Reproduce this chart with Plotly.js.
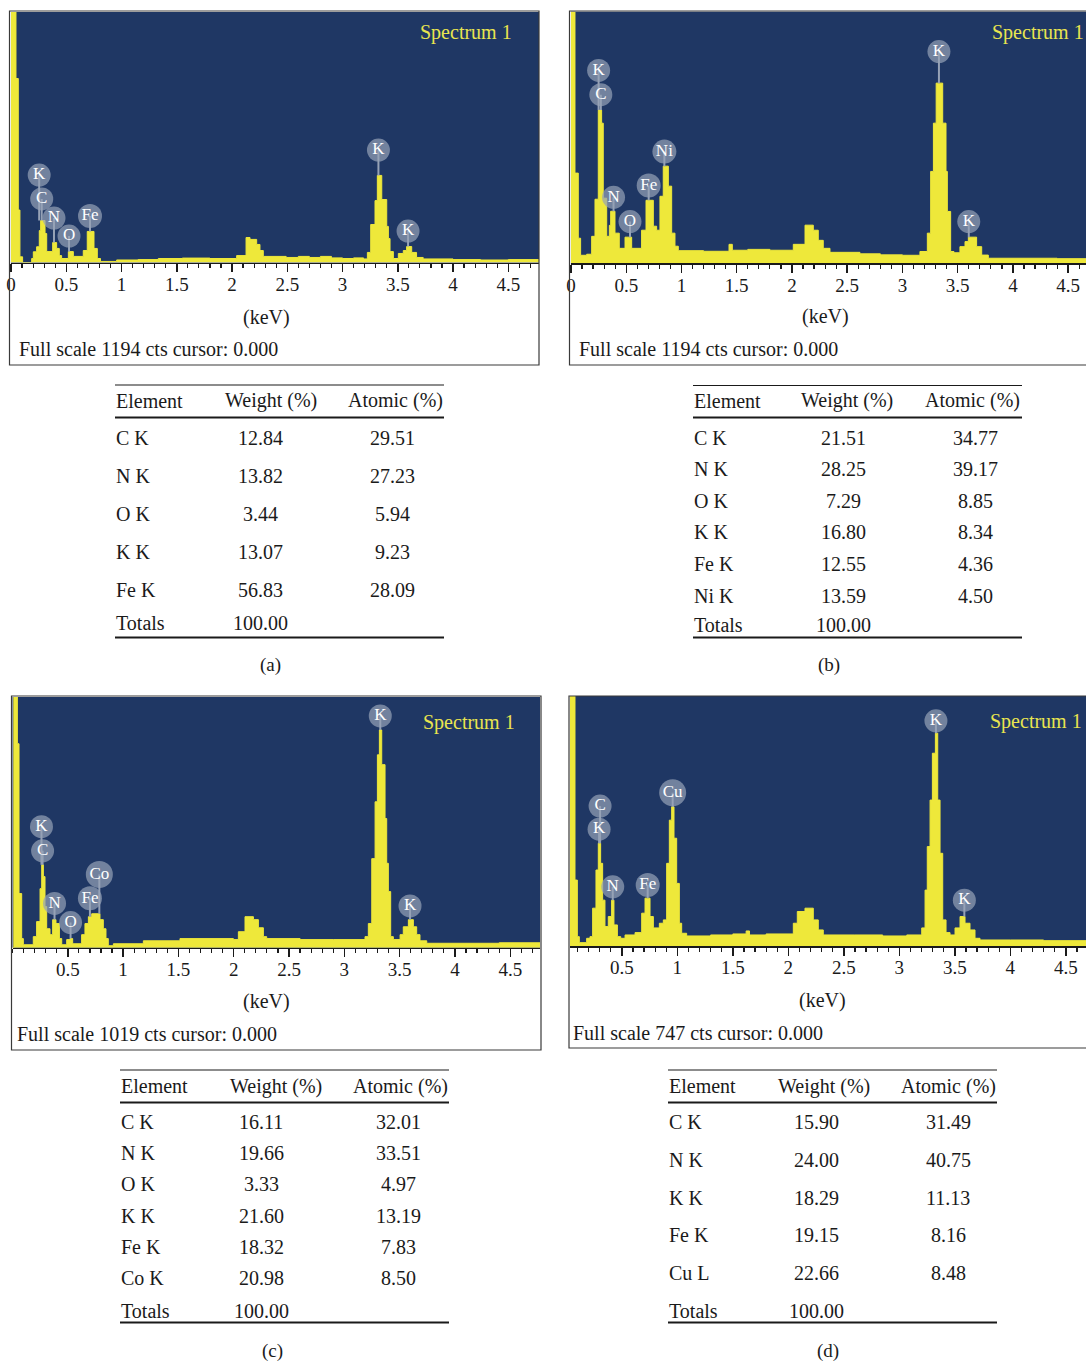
<!DOCTYPE html>
<html>
<head>
<meta charset="utf-8">
<script src="https://cdn.plot.ly/plotly-3.0.1.min.js"></script>
<style>html,body{margin:0;padding:0;background:#fff;overflow:hidden}#chart{width:1086px;height:1362px}</style>
</head>
<body>
<div id="chart"></div>
<script>
// ---------------- DATA ----------------
// Spectrum (a)
const energyA = [0, 0.045, 0.066, 0.081, 0.105, 0.187, 0.202, 0.232, 0.256, 0.268, 0.308, 0.323, 0.377, 0.413, 0.437, 0.458, 0.519, 0.564, 0.654, 0.690, 0.751, 0.781, 0.810, 0.956, 1.150, 1.333, 1.550, 1.800, 2.042, 2.127, 2.163, 2.223, 2.253, 2.283, 2.490, 2.600, 2.700, 2.800, 2.900, 3.000, 3.100, 3.190, 3.225, 3.255, 3.294, 3.315, 3.355, 3.400, 3.415, 3.430, 3.460, 3.505, 3.550, 3.580, 3.626, 3.670, 3.730, 4.000, 4.250, 4.500, 4.800];
const countsA = [1194, 877, 250, 27, 0, 19, 51, 75, 152, 200, 138, 52, 95, 67, 33, 19, 52, 29, 57, 148, 67, 19, 5, 12, 14, 19, 21, 19, 33, 119, 110, 86, 57, 29, 24, 29, 24, 29, 22, 19, 22, 17, 48, 181, 295, 415, 300, 172, 114, 52, 19, 43, 57, 76, 48, 24, 17, 14, 12, 14, 14];
const peakElA = ['K', 'C', 'N', 'O', 'Fe', 'K', 'K'];
const peakKeVA = [0.255, 0.278, 0.389, 0.525, 0.715, 3.325, 3.593];
const peakLabelCtsA = [417, 303, 212, 126, 222, 536, 150];
const peakTopCtsA = [200, 200, 95, 52, 148, 415, 76];

// Spectrum (b)
const energyB = [0, 0.036, 0.066, 0.087, 0.142, 0.187, 0.217, 0.247, 0.277, 0.292, 0.323, 0.347, 0.359, 0.398, 0.437, 0.489, 0.549, 0.639, 0.679, 0.745, 0.775, 0.805, 0.835, 0.881, 0.911, 0.941, 0.971, 1.200, 1.430, 1.460, 1.600, 1.800, 2.012, 2.118, 2.193, 2.238, 2.283, 2.344, 2.615, 2.800, 3.000, 3.158, 3.225, 3.255, 3.280, 3.305, 3.364, 3.394, 3.406, 3.436, 3.466, 3.520, 3.566, 3.596, 3.671, 3.717, 3.777, 4.100, 4.400, 4.700];
const countsB = [1194, 428, 119, 38, 43, 128, 304, 727, 665, 309, 128, 180, 247, 143, 71, 124, 71, 157, 299, 176, 157, 318, 461, 366, 143, 81, 60, 57, 90, 62, 66, 62, 90, 181, 157, 109, 71, 52, 45, 40, 38, 56, 143, 436, 665, 855, 665, 436, 246, 56, 50, 79, 103, 124, 79, 39, 24, 24, 22, 24];
const peakElB = ['K', 'C', 'N', 'O', 'Fe', 'Ni', 'K', 'K'];
const peakKeVB = [0.250, 0.270, 0.385, 0.534, 0.703, 0.845, 3.330, 3.600];
const peakLabelCtsB = [915, 800, 313, 198, 369, 530, 1005, 198];
const peakTopCtsB = [727, 727, 247, 124, 299, 461, 855, 124];

// Spectrum (c)
const energyC = [0, 0.012, 0.044, 0.059, 0.083, 0.098, 0.188, 0.218, 0.249, 0.264, 0.279, 0.294, 0.309, 0.339, 0.363, 0.393, 0.424, 0.445, 0.490, 0.520, 0.544, 0.625, 0.655, 0.686, 0.716, 0.791, 0.821, 0.845, 0.866, 0.912, 1.183, 1.514, 1.997, 2.042, 2.102, 2.178, 2.223, 2.268, 2.298, 2.600, 2.900, 3.187, 3.217, 3.248, 3.278, 3.299, 3.317, 3.338, 3.368, 3.383, 3.398, 3.419, 3.443, 3.504, 3.533, 3.579, 3.624, 3.654, 3.684, 3.745, 4.100, 4.400, 4.800];
const countsC = [0, 1019, 829, 220, 37, 12, 45, 106, 240, 337, 289, 167, 77, 53, 114, 98, 37, 12, 33, 37, 16, 53, 98, 126, 138, 114, 77, 37, 8, 16, 28, 37, 33, 65, 126, 114, 81, 45, 37, 33, 33, 45, 98, 362, 593, 784, 885, 744, 525, 343, 228, 45, 33, 53, 85, 114, 85, 53, 28, 18, 18, 20, 18];
const peakElC = ['K', 'C', 'N', 'O', 'Fe', 'Co', 'K', 'K'];
const peakKeVC = [0.262, 0.272, 0.380, 0.525, 0.700, 0.785, 3.325, 3.594];
const peakLabelCtsC = [492, 394, 180, 102, 201, 298, 942, 170];
const peakTopCtsC = [337, 337, 114, 37, 126, 138, 885, 114];

// Spectrum (d)
const energyD = [0.030, 0.078, 0.099, 0.117, 0.183, 0.213, 0.237, 0.267, 0.288, 0.309, 0.327, 0.348, 0.378, 0.408, 0.429, 0.460, 0.490, 0.529, 0.619, 0.679, 0.709, 0.754, 0.784, 0.838, 0.874, 0.904, 0.928, 0.949, 0.970, 0.994, 1.018, 1.039, 1.084, 1.300, 1.500, 1.620, 1.650, 1.800, 2.045, 2.081, 2.150, 2.225, 2.270, 2.315, 2.600, 2.850, 3.067, 3.202, 3.232, 3.252, 3.277, 3.298, 3.325, 3.346, 3.367, 3.391, 3.421, 3.457, 3.502, 3.547, 3.592, 3.637, 3.682, 3.727, 4.000, 4.300, 4.700];
const countsD = [747, 197, 28, 10, 23, 28, 113, 227, 307, 247, 137, 58, 88, 137, 63, 28, 23, 33, 40, 98, 143, 88, 54, 68, 78, 247, 376, 416, 322, 187, 68, 38, 30, 33, 36, 45, 33, 36, 68, 103, 113, 78, 48, 33, 33, 30, 33, 54, 167, 297, 436, 576, 636, 436, 277, 78, 40, 33, 54, 88, 68, 48, 23, 18, 18, 16, 18];
const peakElD = ['C', 'K', 'N', 'Fe', 'Cu', 'K', 'K'];
const peakKeVD = [0.304, 0.295, 0.418, 0.733, 0.958, 3.330, 3.586];
const peakLabelCtsD = [418, 349, 177, 182, 458, 673, 137];
const peakTopCtsD = [307, 307, 137, 143, 416, 636, 88];

// Full scales (counts)
const fullScaleA = 1194, fullScaleB = 1194, fullScaleC = 1019, fullScaleD = 747;

// Tick labels
const tickValsFromZero = [0, 0.5, 1, 1.5, 2, 2.5, 3, 3.5, 4, 4.5];
const tickTextFromZero = ['0', '0.5', '1', '1.5', '2', '2.5', '3', '3.5', '4', '4.5'];
const tickValsNoZero = [0.5, 1, 1.5, 2, 2.5, 3, 3.5, 4, 4.5];
const tickTextNoZero = ['0.5', '1', '1.5', '2', '2.5', '3', '3.5', '4', '4.5'];

// Tables
const tableHeader = ['Element', 'Weight (%)', 'Atomic (%)'];
const elemA = ['C K', 'N K', 'O K', 'K K', 'Fe K'];
const weightA = ['12.84', '13.82', '3.44', '13.07', '56.83'];
const atomicA = ['29.51', '27.23', '5.94', '9.23', '28.09'];
const elemB = ['C K', 'N K', 'O K', 'K K', 'Fe K', 'Ni K'];
const weightB = ['21.51', '28.25', '7.29', '16.80', '12.55', '13.59'];
const atomicB = ['34.77', '39.17', '8.85', '8.34', '4.36', '4.50'];
const elemC = ['C K', 'N K', 'O K', 'K K', 'Fe K', 'Co K'];
const weightC = ['16.11', '19.66', '3.33', '21.60', '18.32', '20.98'];
const atomicC = ['32.01', '33.51', '4.97', '13.19', '7.83', '8.50'];
const elemD = ['C K', 'N K', 'K K', 'Fe K', 'Cu L'];
const weightD = ['15.90', '24.00', '18.29', '19.15', '22.66'];
const atomicD = ['31.49', '40.75', '11.13', '8.16', '8.48'];
const totalsWeight = '100.00';
const captions = ['(a)', '(b)', '(c)', '(d)'];

// ---------------- STYLE / LAYOUT ----------------
const W = 1086, H = 1362;
const FONT = 'Liberation Serif, DejaVu Serif, serif';
const NAVY = '#1f3764';
const YEL = '#eee83a';
const SPEC_YEL = '#e9e54f';
const LABEL_GRAY = '#96a2b6';
const INK = '#1a1a1a';
const px = x => x / W;
const py = y => 1 - y / H;

const panels = [
  { energy: energyA, counts: countsA, full: fullScaleA, el: peakElA, lx: peakKeVA, ly: peakLabelCtsA, lp: peakTopCtsA,
    xd: [11, 539], yd: [12, 262.5], range: [0, 4.778], tv: tickValsFromZero, tt: tickTextFromZero,
    box: [9.5, 11, 539, 365], kev: [266, 317], fs: [19, 349], spec: [420, 33],
    tbl: { x0: 115, x1: 444, top: 385, hline: 417.5, bottom: 637.5, ex: 116, hy: 400.5, wH: 271, aH: 395, wV: 260, aV: 392, r0: 437.5, dr: 38.1, ty: 622.5, el: elemA, w: weightA, a: atomicA, cap: [270, 665] },
    fsText: 'Full scale 1194 cts cursor: 0.000' },
  { energy: energyB, counts: countsB, full: fullScaleB, el: peakElB, lx: peakKeVB, ly: peakLabelCtsB, lp: peakTopCtsB,
    xd: [571, 1086], yd: [11.7, 263.3], range: [0, 4.661], tv: tickValsFromZero, tt: tickTextFromZero,
    box: [569.5, 11, 1095, 365], kev: [826, 316], fs: [579, 349], spec: [992, 33],
    tbl: { x0: 693, x1: 1022, top: 385.5, hline: 417.5, bottom: 637.5, ex: 694, hy: 400.5, wH: 847, aH: 972, wV: 843, aV: 975, r0: 437.5, dr: 31.6, ty: 625, el: elemB, w: weightB, a: atomicB, cap: [829, 665] },
    fsText: 'Full scale 1194 cts cursor: 0.000' },
  { energy: energyC, counts: countsC, full: fullScaleC, el: peakElC, lx: peakKeVC, ly: peakLabelCtsC, lp: peakTopCtsC,
    xd: [12.5, 540], yd: [697, 947.7], range: [0, 4.769], tv: tickValsNoZero, tt: tickTextNoZero,
    box: [11.5, 696, 541, 1050], kev: [266, 1001], fs: [17, 1034], spec: [423, 722],
    tbl: { x0: 120, x1: 449, top: 1070, hline: 1102.5, bottom: 1322.5, ex: 121, hy: 1086, wH: 276, aH: 400, wV: 261, aV: 398, r0: 1122, dr: 31.2, ty: 1311, el: elemC, w: weightC, a: atomicC, cap: [272, 1351] },
    fsText: 'Full scale 1019 cts cursor: 0.000' },
  { energy: energyD, counts: countsD, full: fullScaleD, el: peakElD, lx: peakKeVD, ly: peakLabelCtsD, lp: peakTopCtsD,
    xd: [570, 1086], yd: [696, 946], range: [0.033, 4.682], tv: tickValsNoZero, tt: tickTextNoZero,
    box: [569, 696, 1095, 1048], kev: [822, 1000], fs: [573, 1033], spec: [990, 721],
    tbl: { x0: 668, x1: 997, top: 1070, hline: 1102.5, bottom: 1322.5, ex: 669, hy: 1086, wH: 824, aH: 948, wV: 816, aV: 948, r0: 1122, dr: 37.8, ty: 1311, el: elemD, w: weightD, a: atomicD, cap: [828, 1351] },
    fsText: 'Full scale 747 cts cursor: 0.000' }
];

const traces = [];
const shapes = [];
const annotations = [];
const layout = {
  width: W, height: H,
  margin: { l: 0, r: 0, t: 0, b: 0, pad: 0 },
  paper_bgcolor: '#ffffff',
  plot_bgcolor: NAVY,
  showlegend: false,
  font: { family: FONT, color: INK },
  hovermode: false
};

// annotation text; left-anchored text is nudged 2px left to cancel the annotation padding
function txt(x, y, text, opts) {
  const o = opts || {};
  const left = !o.xanchor || o.xanchor === 'left';
  annotations.push(Object.assign({
    xref: 'paper', yref: 'paper', x: px(left ? x - 2 : x), y: py(y), text: text, showarrow: false,
    xanchor: 'left', yanchor: 'middle', font: { family: FONT, size: 20, color: INK }
  }, o));
}
function hline(x0, x1, y, w) {
  shapes.push({ type: 'line', xref: 'paper', yref: 'paper', x0: px(x0), x1: px(x1), y0: py(y), y1: py(y), line: { color: INK, width: w } });
}

panels.forEach((p, i) => {
  const s = i === 0 ? '' : String(i + 1);
  const xa = 'x' + s, ya = 'y' + s;

  traces.push({
    type: 'scatter', mode: 'lines', x: p.energy, y: p.counts, xaxis: xa, yaxis: ya,
    line: { shape: 'hv', width: 1, color: YEL }, fill: 'tozeroy', fillcolor: YEL, hoverinfo: 'skip'
  });
  const lx = [], ly = [];
  p.el.forEach((e, j) => { lx.push(p.lx[j], p.lx[j], null); ly.push(p.lp[j], p.ly[j], null); });
  traces.push({
    type: 'scatter', mode: 'lines', x: lx, y: ly, xaxis: xa, yaxis: ya,
    line: { color: LABEL_GRAY, width: 2 }, hoverinfo: 'skip', cliponaxis: false
  });
  traces.push({
    type: 'scatter', mode: 'markers+text', x: p.lx, y: p.ly, xaxis: xa, yaxis: ya,
    text: p.el, textposition: 'middle center',
    textfont: { family: FONT, size: 17, color: '#ffffff' },
    marker: { color: LABEL_GRAY, size: p.el.map(e => e.length === 1 ? 23 : (e === 'Co' || e === 'Cu' ? 27 : 24)), line: { width: 0 } },
    hoverinfo: 'skip', cliponaxis: false
  });

  layout['xaxis' + s] = {
    domain: [px(p.xd[0]), px(p.xd[1])], range: p.range, anchor: ya,
    showgrid: false, zeroline: false, showline: true, linecolor: INK, linewidth: 1.5,
    ticks: 'outside', ticklen: 8, tickwidth: 1.5, tickcolor: INK,
    tickmode: 'array', tickvals: p.tv, ticktext: p.tt, ticklabelstandoff: -4,
    tickfont: { family: FONT, size: 19, color: INK },
    minor: { tickmode: 'linear', tick0: 0, dtick: 0.1, ticks: 'outside', ticklen: 4, tickwidth: 1.2, tickcolor: INK, showgrid: false },
    fixedrange: true
  };
  layout['yaxis' + s] = {
    domain: [py(p.yd[1]), py(p.yd[0])], range: [0, p.full], anchor: xa,
    showgrid: false, zeroline: false, showline: false, showticklabels: false, ticks: '', fixedrange: true
  };

  // outer frame
  shapes.push({ type: 'rect', xref: 'paper', yref: 'paper', x0: px(p.box[0]), x1: px(p.box[2]), y0: py(p.box[3]), y1: py(p.box[1]), line: { color: '#3a3a3a', width: 1.2 } });

  txt(p.kev[0], p.kev[1], '(keV)', { xanchor: 'center' });
  txt(p.fs[0], p.fs[1], p.fsText);
  txt(p.spec[0], p.spec[1], 'Spectrum 1', { font: { family: FONT, size: 20, color: SPEC_YEL } });

  // table
  const t = p.tbl;
  hline(t.x0, t.x1, t.top, 1.2);
  hline(t.x0, t.x1, t.hline, 2.2);
  hline(t.x0, t.x1, t.bottom, 2.2);
  txt(t.ex, t.hy, tableHeader[0]);
  txt(t.wH, t.hy, tableHeader[1], { xanchor: 'center' });
  txt(t.aH, t.hy, tableHeader[2], { xanchor: 'center' });
  t.el.forEach((e, j) => {
    const y = t.r0 + j * t.dr;
    txt(t.ex, y, e);
    txt(t.wV, y, t.w[j], { xanchor: 'center' });
    txt(t.aV, y, t.a[j], { xanchor: 'center' });
  });
  txt(t.ex, t.ty, 'Totals');
  txt(t.wV, t.ty, totalsWeight, { xanchor: 'center' });
  txt(t.cap[0], t.cap[1], captions[i], { xanchor: 'center', font: { family: FONT, size: 19, color: INK } });
});

layout.shapes = shapes;
layout.annotations = annotations;

Plotly.newPlot('chart', traces, layout, { staticPlot: true, displayModeBar: false });
</script>
</body>
</html>
